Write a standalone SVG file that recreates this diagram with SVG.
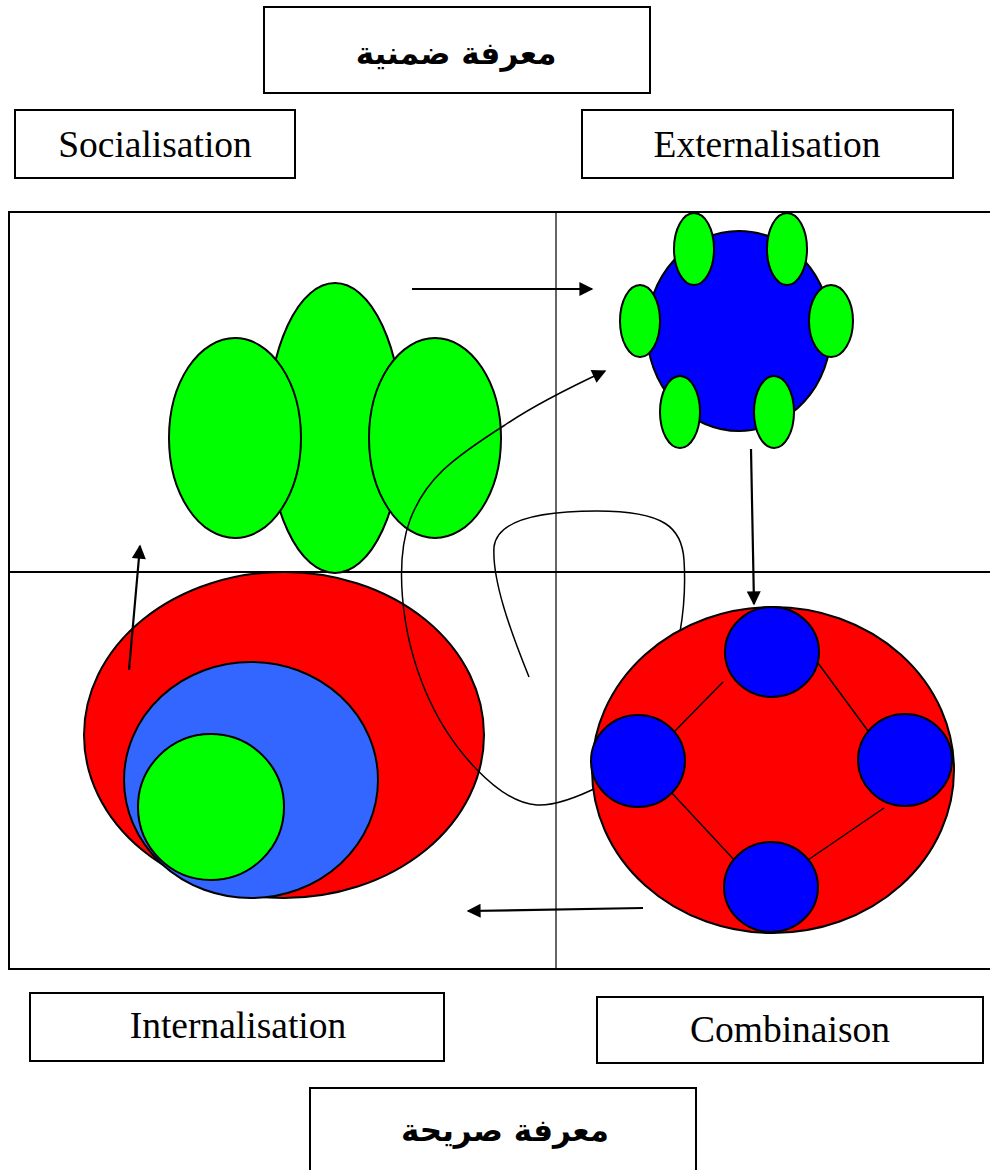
<svg xmlns="http://www.w3.org/2000/svg" width="990" height="1170" viewBox="0 0 990 1170">
<defs>
<style>
.box{fill:#fff;stroke:#000;stroke-width:2}
.lbl{font-family:"Liberation Serif","Times New Roman",serif;font-size:37.5px;fill:#000;text-anchor:middle}
.ar{font-family:"DejaVu Sans","Noto Sans",sans-serif;font-weight:bold;font-size:31px;fill:#000;text-anchor:middle}
.sh{stroke:#000;stroke-width:2}
.g{fill:#00FF00}
.b{fill:#0000FF}
.r{fill:#FF0000}
.lb{fill:#3366FF}
.ln{fill:none;stroke:#000;stroke-width:1.5}
.arw{fill:none;stroke:#000;stroke-width:2.2}
</style>
<marker id="ah2" viewBox="0 0 10 10" refX="9" refY="5" markerWidth="16" markerHeight="14" markerUnits="userSpaceOnUse" orient="auto">
<path d="M0,0 L10,5 L0,10 z" fill="#000"/>
</marker>
</defs>
<rect width="990" height="1170" fill="#fff"/>

<g id="frame">
<rect x="9" y="212" width="990" height="757" fill="none" stroke="#000" stroke-width="2"/>
<line x1="556" y1="212" x2="556" y2="969" stroke="#000" stroke-width="1.2"/>
<line x1="9" y1="572" x2="990" y2="572" stroke="#000" stroke-width="2"/>
</g>

<g id="tacit">
<rect class="box" x="264" y="7" width="386" height="86"/>
<text class="ar" x="456" y="64" direction="rtl">معرفة ضمنية</text>
</g>
<g id="socialisation">
<rect class="box" x="15" y="110" width="280" height="68"/>
<text class="lbl" x="155" y="157">Socialisation</text>
</g>
<g id="externalisation">
<rect class="box" x="582" y="110" width="371" height="68"/>
<text class="lbl" x="767" y="157">Externalisation</text>
</g>
<g id="internalisation">
<rect class="box" x="30" y="993" width="414" height="68"/>
<text class="lbl" x="238" y="1038">Internalisation</text>
</g>
<g id="combinaison">
<rect class="box" x="597" y="997" width="386" height="66"/>
<text class="lbl" x="790" y="1042">Combinaison</text>
</g>
<g id="explicit">
<rect class="box" x="310" y="1088" width="386" height="100"/>
<text class="ar" x="505" y="1141" direction="rtl">معرفة صريحة</text>
</g>

<g id="green-cluster">
<ellipse class="g sh" cx="335" cy="428" rx="67" ry="145"/>
<ellipse class="g sh" cx="235" cy="438" rx="66" ry="100"/>
<ellipse class="g sh" cx="435" cy="438" rx="66" ry="100"/>
</g>

<g id="blue-group">
<ellipse class="b sh" cx="739" cy="331" rx="92" ry="100"/>
<ellipse class="g sh" cx="694" cy="249" rx="20" ry="36"/>
<ellipse class="g sh" cx="787" cy="249" rx="20" ry="36"/>
<ellipse class="g sh" cx="640" cy="321" rx="20" ry="36"/>
<ellipse class="g sh" cx="831" cy="321" rx="22" ry="36"/>
<ellipse class="g sh" cx="680" cy="412" rx="20" ry="36"/>
<ellipse class="g sh" cx="774" cy="412" rx="20" ry="36"/>
</g>

<g id="nested">
<ellipse class="r sh" cx="284" cy="735" rx="200" ry="163"/>
<ellipse class="lb sh" cx="251" cy="780" rx="127" ry="118"/>
<ellipse class="g sh" cx="211" cy="807" rx="73" ry="73"/>
</g>

<g id="connectors">
<line class="arw" x1="412" y1="289" x2="592" y2="289" marker-end="url(#ah2)"/>
<line class="arw" x1="751" y1="449" x2="754" y2="604" marker-end="url(#ah2)"/>
<line class="arw" x1="643" y1="908" x2="468" y2="911" marker-end="url(#ah2)"/>
<line class="arw" x1="129" y1="670" x2="140" y2="546" marker-end="url(#ah2)"/>
<path class="ln" d="M600 786 C580 796 556 806 537 805 C500 803 450 750 425 690 C400 630 395 560 410 520 C425 480 450 460 505 425 C530 408 560 392 605 371" marker-end="url(#ah2)"/>
<path class="ln" d="M529 677 C510 630 492 580 494 547 C497 520 540 511 597 511 C665 511 682 528 684 560 C686 592 683 615 680 632"/>
</g>

<g id="combination">
<ellipse class="r sh" cx="773" cy="770" rx="181" ry="163"/>
<line x1="723" y1="682" x2="671" y2="735" stroke="#000" stroke-width="1.5"/>
<line x1="818" y1="663" x2="871" y2="735" stroke="#000" stroke-width="1.5"/>
<line x1="671" y1="792" x2="737" y2="863" stroke="#000" stroke-width="1.5"/>
<line x1="884" y1="808" x2="805" y2="862" stroke="#000" stroke-width="1.5"/>
<ellipse class="b sh" cx="772" cy="652" rx="47" ry="45"/>
<ellipse class="b sh" cx="638" cy="761" rx="47" ry="46"/>
<ellipse class="b sh" cx="905" cy="760" rx="47" ry="46"/>
<ellipse class="b sh" cx="771" cy="887" rx="47" ry="45"/>
</g>
</svg>
